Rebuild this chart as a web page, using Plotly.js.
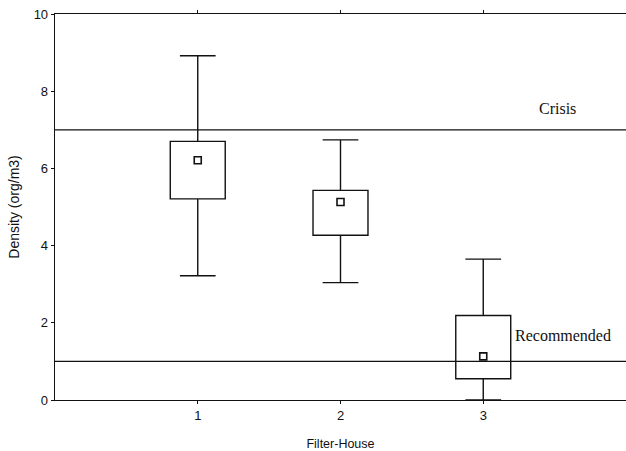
<!DOCTYPE html>
<html><head><meta charset="utf-8">
<script src="https://cdn.plot.ly/plotly-3.0.1.min.js"></script>
<style>body{margin:0;background:#fff}#c{width:626px;height:451px}</style>
</head><body><div id="c"></div>
<script>
const houses = [1, 2, 3];
const tickLabels = ['1', '2', '3'];
const q1 = [5.21, 4.27, 0.55];
const q3 = [6.70, 5.43, 2.19];
const lowWhisker = [3.22, 3.04, 0.0];
const highWhisker = [8.92, 6.74, 3.65];
const means = [6.21, 5.13, 1.13];
const crisisLevel = 7;
const recommendedLevel = 1;

const black = '#111';
const traces = [];
houses.forEach((h, i) => {
  traces.push({
    type: 'box', x: [h], q1: [q1[i]], median: [q1[i]], q3: [q3[i]],
    lowerfence: [lowWhisker[i]], upperfence: [highWhisker[i]],
    width: 0.385, whiskerwidth: 0.65, boxpoints: false,
    line: {color: black, width: 1.4}, fillcolor: 'rgba(0,0,0,0)',
    showlegend: false, hoverinfo: 'skip'
  });
});
traces.push({
  type: 'scatter', mode: 'markers', x: houses, y: means,
  marker: {symbol: 'square-open', size: 7, color: black, line: {width: 1.6, color: black}},
  showlegend: false
});

const layout = {
  width: 626, height: 451,
  margin: {l: 55, r: 0, t: 14, b: 51},
  paper_bgcolor: '#fff', plot_bgcolor: '#fff',
  font: {family: 'Liberation Sans, Arial, sans-serif', size: 12, color: black},
  xaxis: {
    range: [0, 4], tickvals: houses, ticktext: tickLabels,
    showgrid: false, zeroline: false, showline: true, linecolor: black, linewidth: 1.3,
    mirror: 'ticks', ticks: 'outside', ticklen: 3, tickcolor: black,
    tickfont: {size: 13},
    title: {text: 'Filter-House', font: {size: 12.5}, standoff: 18}
  },
  yaxis: {
    range: [0, 10], tickvals: [0, 2, 4, 6, 8, 10],
    showgrid: false, zeroline: false, showline: true, linecolor: black, linewidth: 1.3,
    ticks: 'outside', ticklen: 3, tickcolor: black,
    tickfont: {size: 13},
    title: {text: 'Density (org/m3)', font: {size: 14}, standoff: 10}
  },
  shapes: [
    {type: 'line', xref: 'paper', x0: 0, x1: 1, yref: 'y', y0: crisisLevel, y1: crisisLevel, line: {color: black, width: 1.3}},
    {type: 'line', xref: 'paper', x0: 0, x1: 1, yref: 'y', y0: recommendedLevel, y1: recommendedLevel, line: {color: black, width: 1.3}}
  ],
  annotations: [
    {x: 3.52, y: 7.56, xref: 'x', yref: 'y', text: 'Crisis', showarrow: false,
     font: {family: 'Liberation Serif, Times New Roman, serif', size: 16, color: black}},
    {x: 3.56, y: 1.68, xref: 'x', yref: 'y', text: 'Recommended', showarrow: false,
     font: {family: 'Liberation Serif, Times New Roman, serif', size: 16, color: black}}
  ]
};
Plotly.newPlot('c', traces, layout, {displayModeBar: false, staticPlot: true}).then(gd => {
  // the reference box plots have no median line: drop the median sub-path Plotly draws first
  gd.querySelectorAll('.boxlayer path.box').forEach(p => {
    const d = p.getAttribute('d') || '';
    const parts = d.match(/M[^M]*/g);
    if (parts && parts.length > 2) p.setAttribute('d', parts.slice(1).join(''));
  });
});
</script></body></html>
